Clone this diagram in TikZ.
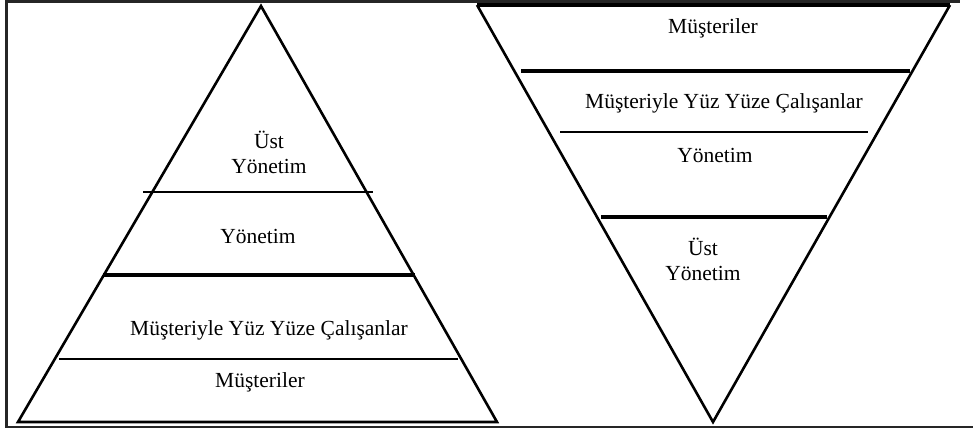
\documentclass[tikz,border=0pt]{standalone}
\usepackage{fontspec}
\setmainfont{Liberation Serif}
\begin{document}
\begin{tikzpicture}[x=1pt,y=-1pt,
  edge/.style={line width=2.6pt,line join=miter},
  thickline/.style={line width=3.8pt},
  thinline/.style={line width=1.6pt},
  frameline/.style={line width=2.2pt,black!85},
  lbl/.style={inner sep=0pt,font=\fontsize{21.5}{25}\selectfont,align=center}]
\useasboundingbox (0,0) rectangle (973,431);
% frame
\coordinate (fbr) at (973,427);
\coordinate (fbl) at (6.5,427);
\coordinate (ftl) at (6.5,1.5);
\coordinate (ftr) at (960,1.5);
\draw[frameline] (fbr) -- (fbl) -- (ftl) -- (ftr);
% left pyramid
\coordinate (la) at (261,6);
\coordinate (ll) at (18,422);
\coordinate (lr) at (497,422);
\draw[edge] (la) -- (ll) -- (lr) -- cycle;
\coordinate (l1a) at (143,192); \coordinate (l1b) at (373,192);
\coordinate (l2a) at (103,275); \coordinate (l2b) at (415,275);
\coordinate (l3a) at (59,359);  \coordinate (l3b) at (458,359);
\draw[thinline] (l1a) -- (l1b);
\draw[thickline] (l2a) -- (l2b);
\draw[thinline] (l3a) -- (l3b);
\node[lbl] (lust) at (269,152) {Üst\\Yönetim};
\node[lbl] (lyon) at (258,236) {Yönetim};
\node[lbl] (lcal) at (269,330) {Müşteriyle Yüz Yüze Çalışanlar};
\node[lbl] (lmus) at (260,382) {Müşteriler};
% right inverted pyramid
\coordinate (rl) at (477,5);
\coordinate (rr) at (950,5);
\coordinate (ra) at (713,422);
\draw[edge] (rl) -- (ra) -- (rr);
\draw[thickline] (rl) -- (rr);
\coordinate (r1a) at (521,71); \coordinate (r1b) at (910,71);
\coordinate (r2a) at (560,132); \coordinate (r2b) at (868,132);
\coordinate (r3a) at (601,217); \coordinate (r3b) at (827,217);
\draw[thickline] (r1a) -- (r1b);
\draw[thinline] (r2a) -- (r2b);
\draw[thickline] (r3a) -- (r3b);
\node[lbl] (rmus) at (713,28) {Müşteriler};
\node[lbl] (rcal) at (724,103) {Müşteriyle Yüz Yüze Çalışanlar};
\node[lbl] (ryon) at (715,155) {Yönetim};
\node[lbl] (rust) at (703,259) {Üst\\Yönetim};
\end{tikzpicture}
\end{document}
